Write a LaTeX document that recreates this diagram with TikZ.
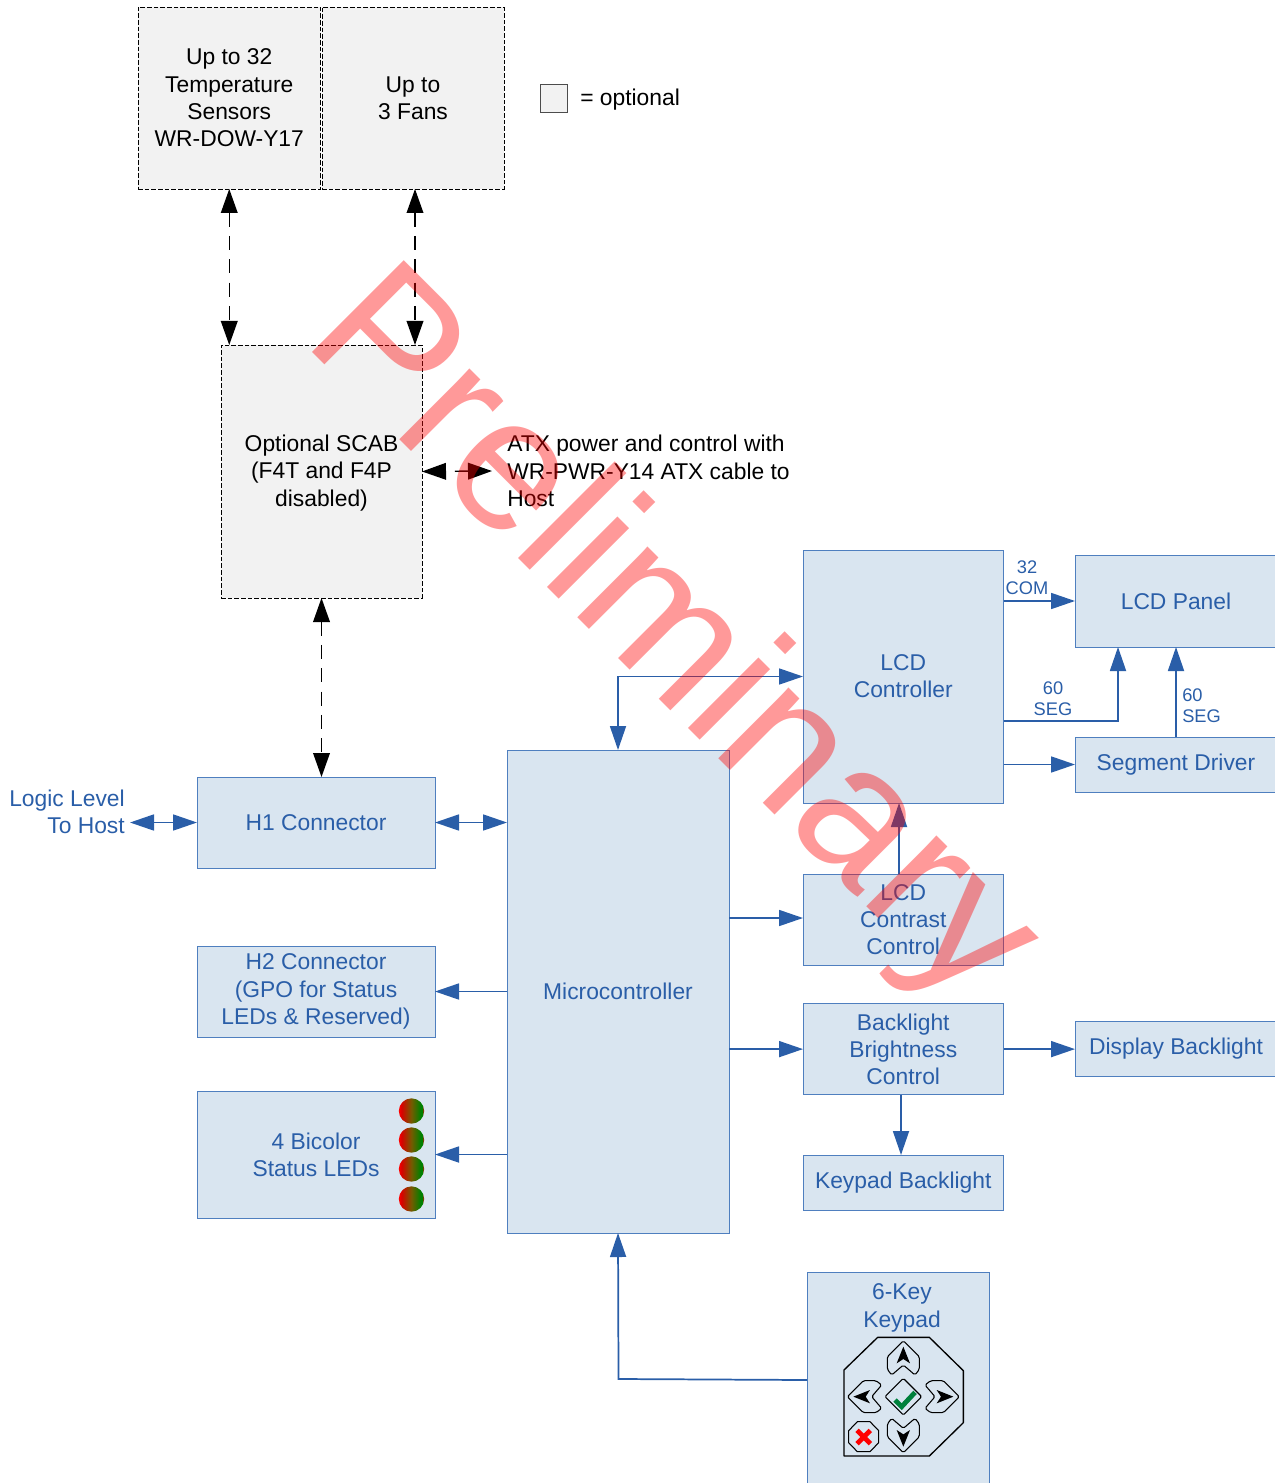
\documentclass[tikz,border=0pt]{standalone}
\usepackage{fontspec}
\setmainfont{Liberation Sans}
\usetikzlibrary{arrows.meta,calc}
\definecolor{bluetxt}{HTML}{2A5EA8}
\definecolor{blueline}{HTML}{2A5EA8}
\definecolor{bluefill}{HTML}{D9E5F0}
\definecolor{blueedge}{HTML}{4F7FBF}
\definecolor{optfill}{HTML}{F2F2F2}
\definecolor{okgreen}{HTML}{00803C}
\pgfdeclarehorizontalshading{ledshade}{100bp}{color(0bp)=(red);color(25bp)=(red);color(30bp)=(red!85!black);color(50bp)=(black!35!green!55!red);color(68bp)=(green!50!black);color(72bp)=(green!50!black);color(74bp)=(red);color(100bp)=(red)}
\newcommand{\bx}[6]{% name, x1,y1,x2,y2, style+text
  \pgfmathsetmacro{\bxw}{(#4-#2-0.5)*0.75}\pgfmathsetmacro{\bxh}{(#5-#3)*0.75}
  \node[#6, minimum width=\bxw pt, minimum height=\bxh pt] (#1) at ({(#2+#4-0.5)/2},{(#3+#5)/2})}
\tikzset{
  x=0.75pt,y=-0.75pt,
  txt/.style={font=\fontsize{17.12}{20.45}\selectfont,align=center,inner sep=0pt},
  smalltxt/.style={font=\fontsize{13.7}{15.8}\selectfont,align=center,inner sep=0pt,text=bluetxt},
  lcdbox/.style={txt,draw=blueedge,fill=bluefill,text=bluetxt,line width=0.75pt,outer sep=0pt},
  optbox/.style={txt,draw=black,fill=optfill,dash pattern=on 3.5pt off 1.5pt,line width=0.6pt,outer sep=0pt},
  blueflow/.style={draw=blueline,line width=1.3pt,-{Triangle[length=18pt,width=12pt]}},
  bluedbl/.style={draw=blueline,line width=1.3pt,{Triangle[length=18pt,width=12pt]}-{Triangle[length=18pt,width=12pt]}},
  optflow/.style={draw=black,line width=1.1pt,dash pattern=on 10.5pt off 7pt,{Triangle[length=18pt,width=12.5pt]}-{Triangle[length=18pt,width=12.5pt]}},
  keyline/.style={draw=black,line width=0.8pt,line join=round},
  led/.style={circle,minimum size=19pt,inner sep=0pt,shading=ledshade},
  watermark/.style={text=red,text opacity=0.4,font=\fontsize{141.5}{141.5}\selectfont,inner sep=0pt}
}
\begin{document}
\begin{tikzpicture}
\useasboundingbox (0,0) rectangle (1274,1483);
% optional boxes
\bx{temp}{138}{7}{321}{189}{optbox} {Up to 32\\Temperature\\Sensors\\WR-DOW-Y17};
\bx{fans}{322}{7}{504.5}{189}{optbox} {Up to\\3 Fans};
\bx{legend}{540}{84}{568}{112}{optbox,draw=black!70,dash pattern=on 20pt off 0pt} {};
\node[txt,anchor=west] (legendtxt) at (580,100) {= optional};
\bx{scab}{221}{345}{422.5}{598}{optbox} {\rule{0pt}{14.5pt}Optional SCAB\\(F4T and F4P\\disabled)};
\node[txt,anchor=west,align=left] (atx) at (507,471) {ATX power and control with\\WR-PWR-Y14 ATX cable to\\Host};
% blue boxes
\bx{hone}{197}{777}{435.5}{868}{lcdbox} {H1 Connector};
\bx{htwo}{197}{946}{435.5}{1037}{lcdbox} {H2 Connector\\(GPO for Status\\LEDs \& Reserved)};
\bx{leds}{197}{1091}{435.5}{1218}{lcdbox} {4 Bicolor\\Status LEDs};
\bx{mcu}{507}{750}{729.5}{1233}{lcdbox} {Microcontroller};
\bx{lcd}{803}{550}{1004}{803}{lcdbox} {LCD\\Controller};
\bx{contrast}{803}{874}{1004}{965}{lcdbox} {LCD\\Contrast\\Control};
\bx{bright}{803}{1003.6}{1004}{1094.6}{lcdbox} {Backlight\\Brightness\\Control};
\bx{keyback}{803}{1155}{1004}{1210}{lcdbox} {Keypad Backlight};
\bx{panel}{1075}{555}{1277.5}{647}{lcdbox} {LCD Panel};
\bx{segdrv}{1075}{737}{1277.5}{792}{lcdbox} {Segment Driver};
\bx{dispback}{1075}{1021}{1277.5}{1076}{lcdbox} {Display Backlight};
\bx{keypad}{807}{1272}{990}{1495}{lcdbox} {};
\node[txt,text=bluetxt] (kptxt) at (902,1308) {6-Key\\Keypad};
\node[txt,text=bluetxt,align=right,anchor=east] (logic) at (125,811.5) {Logic Level\\To Host};
% LEDs
\node[led] (ledA) at (411.5,1111) {};
\node[led] (ledB) at (411.5,1140) {};
\node[led] (ledC) at (411.5,1169) {};
\node[led] (ledD) at (411.5,1199) {};
% small labels
\node[smalltxt] (com) at (1027,577.5) {32\\COM};
\node[smalltxt] (segA) at (1053,698.5) {60\\SEG};
\node[smalltxt,align=left,anchor=west] (segB) at (1182,705.5) {60\\SEG};
% optional connectors
\draw[optflow] (temp.south) -- (scab.north -| temp.south);
\draw[optflow] (fans.south -| 415,0) -- (scab.north -| 415,0);
\draw[optflow,dash phase=10.5pt] (scab.east) -- ([xshift=-11.25pt]atx.west);
\draw[optflow] (scab.south) -- (hone.north -| scab.south);
% blue connectors
\draw[bluedbl] ([xshift=3.75pt]logic.east |- hone.west) -- (hone.west);
\draw[bluedbl] (hone.east) -- (mcu.west |- hone.east);
\draw[blueflow] (mcu.west |- htwo.east) -- (htwo.east);
\draw[blueflow] (mcu.west |- leds.east) -- (leds.east);
\draw[bluedbl] (mcu.north) |- (lcd.west);
\draw[blueflow] (mcu.east |- 0,918) -- (contrast.west |- 0,918);
\draw[blueflow] (mcu.east |- bright.west) -- (bright.west);
\draw[blueflow] (contrast.north -| 899,0) -- (lcd.south -| 899,0);
\draw[blueflow] (bright.east) -- (dispback.west |- bright.east);
\draw[blueflow] (bright.south -| 901,0) -- (keyback.north -| 901,0);
\draw[blueflow] (lcd.east |- panel.west) -- (panel.west);
\draw[blueflow] (lcd.east |- 0,721) -| (panel.south -| 1118,0);
\draw[blueflow] (lcd.east |- segdrv.west) -- (segdrv.west);
\draw[blueflow] (segdrv.north) -- (panel.south);
\draw[blueflow] (keypad.west |- 0,1380) -- (618.5,1379) -- (mcu.south);
% keypad graphic
\begin{scope}[shift={(800,1270)},x=0.25pt,y=-0.25pt]
  \draw[keyline,line width=1pt] (233,202) -- (388,202) -- (490,302) -- (490,458) -- (388,558) -- (132,558) -- (132,300) -- cycle;
  \foreach \r in {0,90,180,270}{
    \begin{scope}[shift={(310,380)},rotate=\r]
      \draw[keyline,rounded corners=1.2pt] (0,-168) -- (48,-120) -- (48,-82) -- (35,-65) -- (0,-95) -- (-35,-65) -- (-48,-82) -- (-48,-120) -- cycle;
      \fill[black] (0,-150) -- (20,-100) -- (0,-113) -- (-20,-100) -- cycle;
    \end{scope}
  }
  \draw[keyline,rounded corners=1pt] (310,325) -- (365,380) -- (310,435) -- (255,380) -- cycle;
  \draw[draw=okgreen,line width=3.6pt] (285,390) -- (305,410) -- (345,367);
  \draw[keyline] (172,455) -- (210,455) -- (236,482) -- (236,518) -- (210,545) -- (172,545) -- (146,518) -- (146,482) -- cycle;
  \draw[draw=red,line width=3.6pt] (171,481) -- (211,521) (211,481) -- (171,521);
\end{scope}
% watermark
\node[watermark,rotate=-45,anchor=base west] (wm) at (301.5,341.5) {Preliminary};
\end{tikzpicture}
\end{document}
